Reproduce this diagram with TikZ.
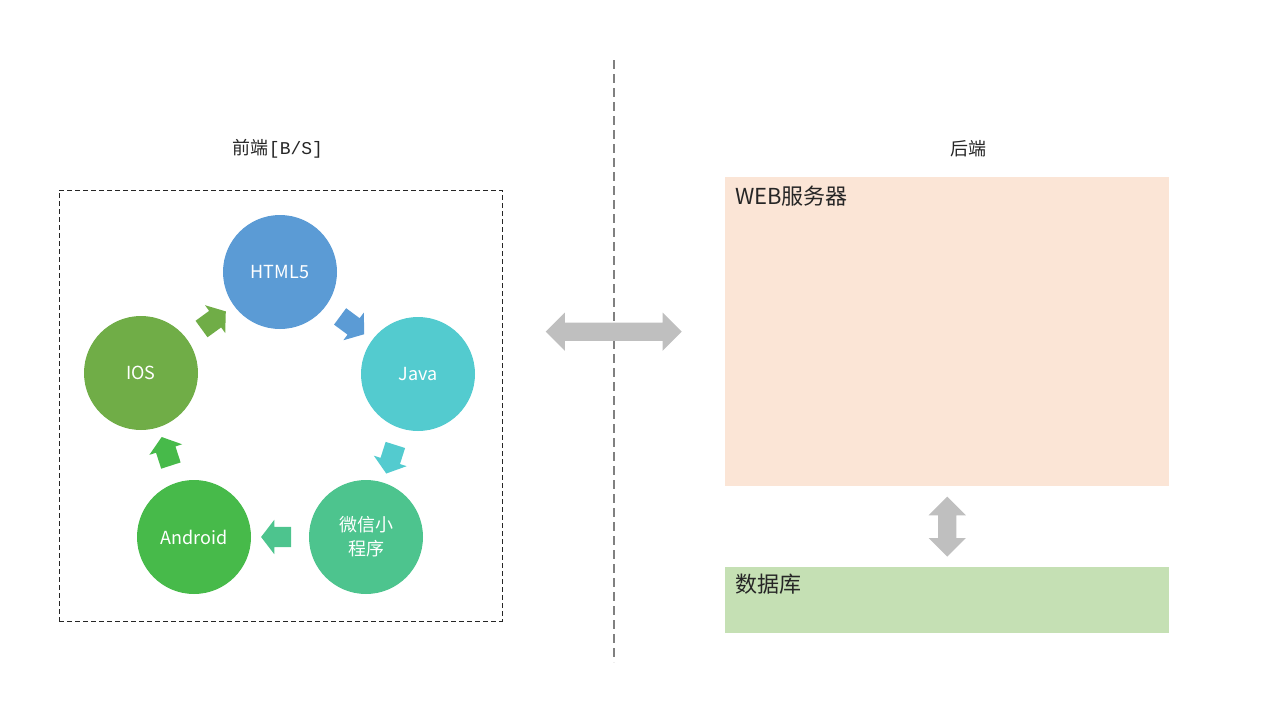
\documentclass[tikz,border=0pt]{standalone}
\usepackage{fontspec}
\setmainfont{Noto Sans CJK SC}
\setmonofont{Liberation Mono}
\usetikzlibrary{positioning,shapes.arrows,calc}
\definecolor{htmlblue}{HTML}{5B9BD5}
\definecolor{javacyan}{HTML}{53CBCF}
\definecolor{wxgreen}{HTML}{4DC48E}
\definecolor{andgreen}{HTML}{47BA4A}
\definecolor{iosgreen}{HTML}{70AD47}
\definecolor{webfill}{HTML}{FBE5D6}
\definecolor{dbfill}{HTML}{C5E0B4}
\definecolor{bigarrow}{HTML}{BFBFBF}
\definecolor{divider}{HTML}{808080}

\begin{document}
\begin{tikzpicture}[
      x=1pt, y=-1pt,
      >=latex
    ]

    \tikzstyle{ring} = [circle, minimum size=114pt, inner sep=0pt, text=white, align=center, font=\fontsize{18}{24}\selectfont]

    \tikzstyle{flow} = [single arrow, single arrow head extend=7pt, single arrow tip angle=105, minimum height=30pt, inner xsep=0pt, inner ysep=10pt, sloped, allow upside down]

    \tikzstyle{both} = [double arrow, fill=bigarrow, inner xsep=0pt, inner ysep=9pt]

    \tikzstyle{tier} = [rectangle, anchor=north west, minimum width=444pt, inner sep=0pt]

    \tikzstyle{title} = [font=\fontsize{18}{22}\selectfont, text=black!85]

    \tikzstyle{tag} = [anchor=north west, inner sep=0pt, font=\fontsize{22}{26}\selectfont, text=black!85]

    \useasboundingbox (0,0) rectangle (1280,720);

    % front end
    \node [rectangle, draw=black!85, line width=0.9pt, dash pattern=on 5pt off 3pt, minimum width=443pt, minimum height=431pt] (front) at (280.5,405.5) {};
    \node [title] (fronttitle) at (278,149) {前端\texttt{[B/S]}};

    \node [ring, fill=htmlblue] (html) at (280,272) {HTML5};
    \node [ring, fill=javacyan] (java) at (418,374) {Java};
    \node [ring, fill=wxgreen]  (wx)   at (366,537) {微信小\\程序};
    \node [ring, fill=andgreen] (andr) at (194,537) {Android};
    \node [ring, fill=iosgreen] (ios)  at (141,373) {IOS};

    \path (html) -- node [flow, fill=htmlblue] {} (java);
    \path (java) -- node [flow, fill=javacyan] {} (wx);
    \path (wx)   -- node [flow, fill=wxgreen]  {} (andr);
    \path (andr) -- node [flow, fill=andgreen] {} (ios);
    \path (ios)  -- node [flow, fill=iosgreen] {} (html);

    % divider
    \coordinate (divtop) at (614,60);
    \coordinate (divbot) at (614,662);
    \draw [divider, line width=1.6pt, dash pattern=on 9pt off 5pt] (divtop) -- (divbot);

    % back end
    \node [title] (backtitle) at (968,149) {后端};
    \node [tier, fill=webfill, minimum height=309pt] (web) at (725,177) {};
    \node [tag] (webtag) at ($(web.north west)+(10,9)$) {WEB服务器};
    \node [tier, fill=dbfill, minimum height=66pt] (db) at (725,567) {};
    \node [tag] (dbtag) at ($(db.north west)+(10,7)$) {数据库};

    \node [both, double arrow head extend=10pt, minimum height=136pt] (link) at ($(front.east |- web.west)!0.5!(web.west)$) {};
    \node [both, double arrow head extend=9.5pt, minimum height=60pt, rotate=90] (query) at ($(web.south)!0.5!(db.north)$) {};

\end{tikzpicture}
\end{document}
